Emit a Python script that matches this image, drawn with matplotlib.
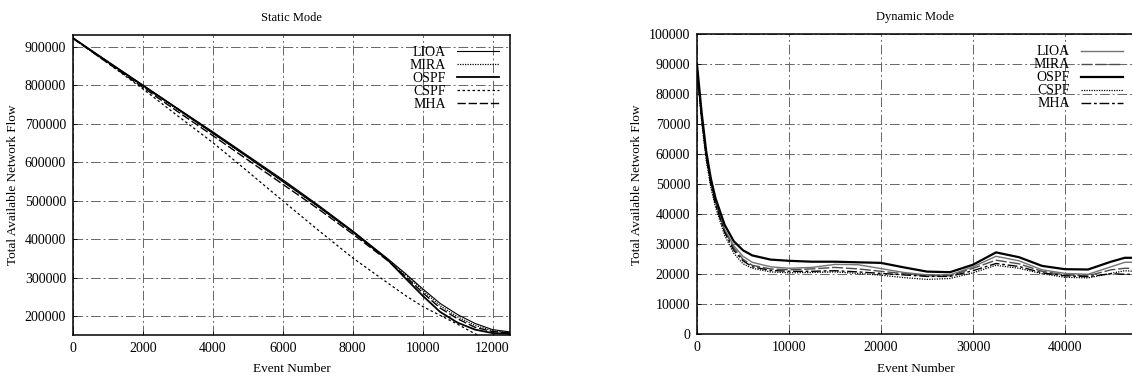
import matplotlib
matplotlib.use("Agg")
import matplotlib.pyplot as plt

plt.rcParams['font.family'] = ['Liberation Serif', 'DejaVu Serif']

# --- Static mode data ---
static_x = [0, 1000, 2000, 3000, 4000, 5000, 6000, 7000, 8000, 9000, 9500,
            10000, 10500, 11000, 11500, 12000, 12500]
static_lioa = [922000, 861000, 800000, 739000, 679000, 617000, 555000, 490000, 422000,
               350000, 312000, 272000, 234000, 205000, 182000, 166000, 160000]
static_mira = [921000, 859000, 797000, 736000, 675000, 613000, 550000, 486000, 419000,
               348000, 310000, 268000, 228000, 199000, 177000, 163000, 158000]
static_ospf = [922000, 860000, 799000, 738000, 676000, 614000, 551000, 487000, 420000,
               347000, 300000, 254000, 212000, 184000, 166000, 157000, 155000]
static_cspf = [922000, 857000, 790000, 720000, 651000, 576000, 500000, 425000, 352000,
               287000, 255000, 226000, 203000, 180000, 155000, 138000, 125000]
static_mha = [921000, 857000, 794000, 731000, 669000, 606000, 543000, 480000, 414000,
              345000, 305000, 262000, 222000, 194000, 172000, 161000, 157000]

# --- Dynamic mode data ---
dyn_x = [0, 500, 1000, 1500, 2000, 3000, 4000, 5000, 6000, 8000, 10000, 12500, 15000,
         17500, 20000, 22500, 25000, 27500, 30000, 32500, 35000, 37500, 40000, 42500,
         45000, 46500, 47500]
dyn_lioa = [89000, 73000, 60000, 51000, 44500, 35000, 29500, 26000, 24000, 22500, 22000,
            22300, 23300, 23200, 21900, 20600, 19800, 19800, 22500, 26000, 24500, 21500,
            20300, 20000, 22500, 24000, 24000]
dyn_mira = [89000, 72500, 59500, 50500, 44000, 34500, 28800, 25000, 23000, 21800, 21500,
            21800, 22300, 21800, 21000, 20200, 19500, 19500, 22000, 24700, 23500, 21000,
            19800, 19500, 21500, 22000, 22000]
dyn_ospf = [90000, 74000, 61000, 52000, 45500, 36500, 31000, 28000, 26300, 24900, 24500,
            24200, 24200, 24000, 23800, 22300, 20900, 20700, 23200, 27300, 25700, 22800,
            21700, 21600, 24200, 25500, 25500]
dyn_cspf = [88000, 71000, 58000, 49000, 42500, 33000, 27000, 23500, 22000, 20800, 20500,
            20600, 20800, 20300, 19700, 18900, 18300, 18600, 20500, 23000, 22000, 20200,
            19000, 18800, 20300, 21200, 21000]
dyn_mha = [88500, 72000, 59000, 50000, 43500, 34000, 28000, 24500, 22500, 21300, 21000,
           21000, 21200, 20800, 20300, 19800, 19300, 19300, 21200, 23600, 22600, 20500,
           19500, 19200, 20200, 20000, 20000]

labels = ['LIOA', 'MIRA', 'OSPF', 'CSPF', 'MHA']
static_ticks = [200000, 300000, 400000, 500000, 600000, 700000, 800000, 900000]
static_xticks = [0, 2000, 4000, 6000, 8000, 10000, 12000]
dyn_ticks = [0, 10000, 20000, 30000, 40000, 50000, 60000, 70000, 80000, 90000, 100000]
dyn_xticks = [0, 10000, 20000, 30000, 40000]

fig = plt.figure(figsize=(11.32, 3.81), dpi=100)
ax1 = fig.add_axes([73 / 1132, 1 - 335 / 381, 437 / 1132, 300 / 381])
ax2 = fig.add_axes([697 / 1132, 1 - 334.3 / 381, 437 / 1132, 300 / 381])

grid_style = dict(color='0.4', linewidth=0.7, linestyle=(0, (10, 3, 2, 3)))

static_styles = [
    dict(color='black', lw=0.8, ls='-'),
    dict(color='black', lw=0.9, ls=(0, (1, 1))),
    dict(color='black', lw=1.3, ls='-'),
    dict(color='black', lw=0.9, ls=(0, (2, 2))),
    dict(color='black', lw=1.0, ls=(0, (6, 2))),
]
dyn_styles = [
    dict(color='0.45', lw=1.0, ls='-'),
    dict(color='0.3', lw=1.0, ls=(0, (8, 2))),
    dict(color='black', lw=1.6, ls='-'),
    dict(color='black', lw=0.9, ls=(0, (1, 1))),
    dict(color='black', lw=1.0, ls=(0, (7, 2, 2, 2))),
]

for series, lab, st in zip([static_lioa, static_mira, static_ospf, static_cspf, static_mha],
                           labels, static_styles):
    ax1.plot(static_x, series, label=lab, **st)
for series, lab, st in zip([dyn_lioa, dyn_mira, dyn_ospf, dyn_cspf, dyn_mha],
                           labels, dyn_styles):
    ax2.plot(dyn_x, series, label=lab, **st)

ax1.set_xlim(0, 12500)
ax1.set_ylim(152000, 930000)
ax1.set_xticks(static_xticks)
ax1.set_yticks(static_ticks)
ax1.set_title('Static Mode', fontsize=9, pad=10)

ax2.set_xlim(0, 47500)
ax2.set_ylim(0, 100000)
ax2.set_xticks(dyn_xticks)
ax2.set_yticks(dyn_ticks)
ax2.set_title('Dynamic Mode', fontsize=9, pad=10)

for ax in (ax1, ax2):
    ax.grid(True, **grid_style)
    ax.set_axisbelow(True)
    ax.set_xlabel('Event Number', fontsize=9.5, labelpad=6)
    ax.set_ylabel('Total Available Network Flow', fontsize=9.5, labelpad=4)
    ax.tick_params(direction='in', length=3, width=0.6, labelsize=10, pad=5)
    for sp in ax.spines.values():
        sp.set_linewidth(1.1)
    ax.legend(loc='upper right', frameon=False, markerfirst=False,
              fontsize=10, handlelength=3.0, handletextpad=0.8,
              labelspacing=0.0, borderaxespad=0.4)

ax2.spines['right'].set_visible(False)

fig.savefig('out.png', dpi=100)
